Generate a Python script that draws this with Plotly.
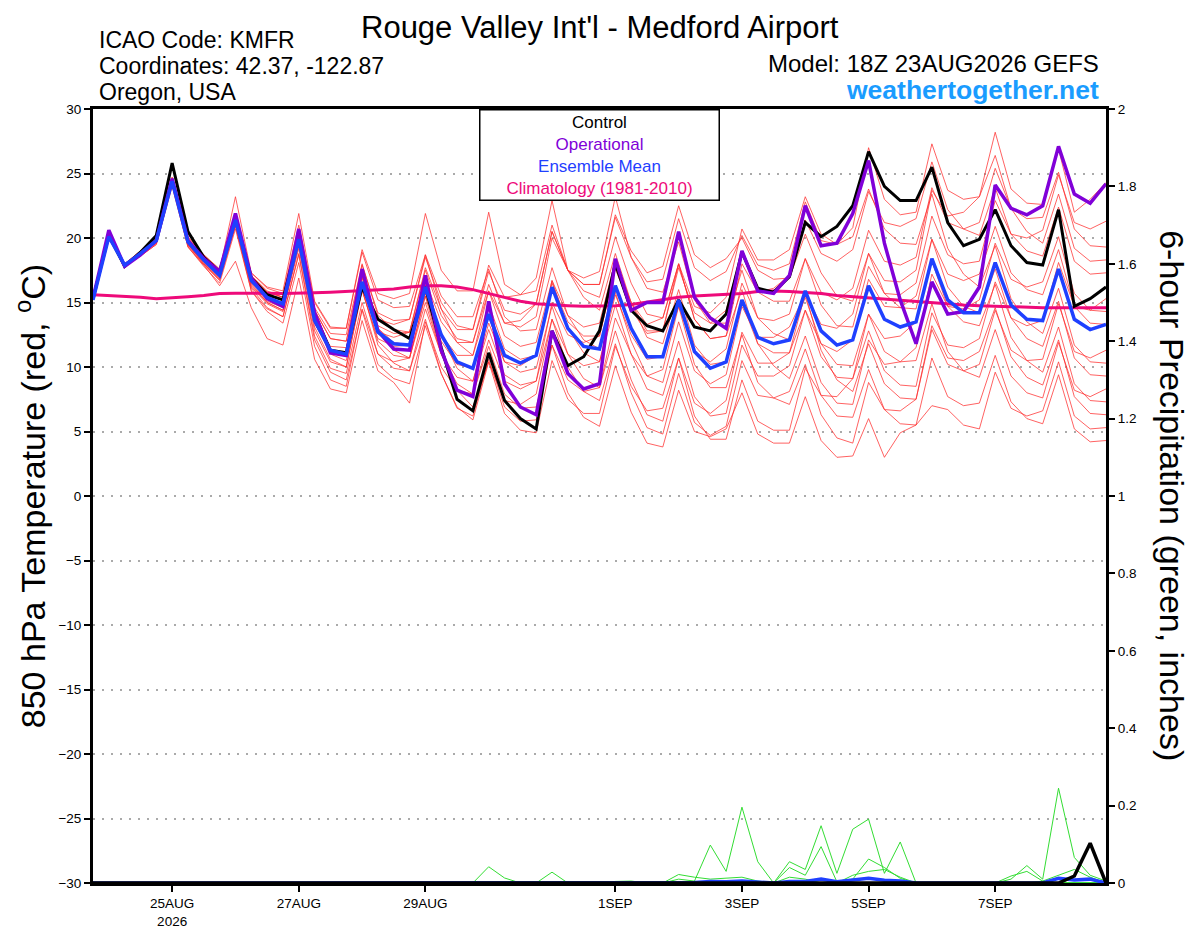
import pandas as pd
import plotly.graph_objects as go

# GEFS 18Z 23AUG2026 run for KMFR, 6-hourly steps out to 16 days
times = pd.date_range("2026-08-23 18:00", periods=65, freq="6h")

tick_dates = ["2026-08-25", "2026-08-27", "2026-08-29", "2026-09-01",
              "2026-09-03", "2026-09-05", "2026-09-07"]
tick_text = ["25AUG<br>2026", "27AUG", "29AUG", "1SEP", "3SEP", "5SEP", "7SEP"]

# 850 hPa temperature (deg C)
control = [15.3, 20.2, 17.8, 18.9, 20.2, 25.8, 20.5, 18.5, 17.4, 21.6, 16.9, 15.6, 15.2,
           20.2, 14.1, 11.3, 11.1, 16.2, 13.7, 12.9, 12.2, 16.2, 11.5, 7.5, 6.6, 11.1,
           7.4, 6.0, 5.2, 12.8, 10.1, 10.8, 12.8, 18.0, 14.4, 13.2, 12.8, 15.2, 13.1,
           12.8, 14.1, 18.9, 16.1, 15.8, 17.0, 21.2, 20.1, 20.9, 22.5, 26.7, 24.0, 22.9,
           22.9, 25.5, 21.2, 19.4, 19.9, 22.2, 19.4, 18.1, 17.9, 22.2, 14.7, 15.3, 16.2]

operational = [15.3, 20.6, 17.8, 18.7, 19.8, 24.6, 19.8, 18.4, 17.4, 21.9, 16.9, 15.3, 14.7,
               20.7, 14.2, 11.1, 10.9, 17.6, 12.8, 11.4, 11.3, 17.1, 11.3, 8.2, 7.7, 15.1,
               8.7, 6.9, 6.3, 12.8, 9.5, 8.3, 8.7, 18.4, 14.4, 15.0, 15.0, 20.5, 15.4,
               13.8, 13.0, 19.0, 15.9, 15.7, 17.1, 22.5, 19.4, 19.6, 21.9, 26.0, 19.6, 15.2,
               11.8, 16.6, 14.1, 14.3, 16.2, 24.1, 22.3, 21.8, 22.5, 27.1, 23.4, 22.7, 24.2]

ens_mean = [15.2, 20.1, 17.9, 18.8, 19.8, 24.4, 19.7, 18.3, 17.1, 21.4, 16.7, 15.4, 14.9,
            19.9, 13.6, 11.3, 11.0, 16.6, 12.7, 11.8, 11.7, 16.2, 12.5, 10.4, 9.9, 14.1,
            10.9, 10.3, 10.9, 16.2, 13.0, 11.6, 11.4, 16.3, 13.0, 10.8, 10.8, 15.2, 11.2,
            9.9, 10.4, 15.2, 12.3, 11.8, 12.1, 15.9, 12.8, 11.7, 12.1, 16.3, 13.7, 13.1,
            13.5, 18.4, 15.2, 14.2, 14.2, 18.1, 14.8, 13.7, 13.6, 17.6, 13.7, 12.9, 13.3]

climatology = [15.6, 15.55, 15.5, 15.4, 15.3, 15.35, 15.45, 15.55, 15.7, 15.72, 15.74, 15.72, 15.7,
               15.7, 15.75, 15.8, 15.85, 15.9, 15.95, 16.05, 16.2, 16.3, 16.3, 16.2, 16.0, 15.7,
               15.4, 15.1, 14.9, 14.8, 14.75, 14.7, 14.7, 14.75, 14.85, 15.05, 15.25, 15.4, 15.5,
               15.55, 15.6, 15.7, 15.85, 15.9, 15.85, 15.8, 15.7, 15.55, 15.45, 15.35, 15.25, 15.15,
               15.05, 14.95, 14.85, 14.8, 14.75, 14.7, 14.7, 14.65, 14.6, 14.6, 14.6, 14.6, 14.6]

member_01 = [15.2, 20.2, 18.0, 18.9, 20.0, 24.6, 19.9, 18.6, 17.4, 21.8, 17.1, 15.9, 15.4,
             20.5, 14.4, 12.2, 12.0, 17.9, 14.2, 13.6, 13.7, 18.5, 15.0, 13.2, 12.9, 17.4,
             14.4, 14.1, 14.9, 20.5, 17.5, 16.4, 16.4, 21.6, 18.5, 16.6, 16.8, 21.5, 17.7,
             16.7, 17.4, 20.2, 17.9, 17.5, 18.0, 22.8, 19.8, 19.5, 20.8, 27.0, 23.0, 21.8,
             22.0, 27.3, 23.7, 23.0, 23.2, 28.2, 23.8, 22.7, 22.6, 26.9, 22.0, 23.0, 24.3]
member_02 = [15.2, 20.0, 17.8, 18.6, 19.5, 24.1, 19.3, 17.9, 16.3, 18.2, 14.6, 12.2, 11.7,
             16.9, 10.6, 8.3, 8.0, 13.6, 9.7, 8.8, 7.2, 13.5, 10.0, 8.2, 7.9, 11.6,
             7.9, 6.8, 6.9, 11.7, 8.0, 6.1, 5.4, 10.1, 6.5, 4.1, 3.8, 8.2, 5.0,
             4.6, 5.2, 8.0, 4.8, 4.1, 4.1, 7.7, 4.3, 3.0, 3.1, 6.0, 3.0, 4.9,
             5.5, 10.7, 7.7, 7.0, 7.2, 10.9, 7.3, 6.0, 5.6, 9.4, 5.2, 4.2, 4.3]
member_03 = [15.3, 20.1, 18.0, 18.9, 19.9, 24.5, 19.9, 18.5, 17.3, 21.8, 17.3, 16.2, 15.9,
             21.9, 15.1, 13.1, 13.0, 19.1, 15.7, 15.3, 15.7, 21.9, 17.5, 15.9, 15.9, 22.0,
             16.4, 15.6, 15.9, 21.0, 17.5, 15.9, 15.4, 20.1, 16.5, 14.1, 13.8, 18.0, 13.7,
             12.2, 12.4, 18.0, 15.8, 16.1, 17.1, 21.4, 18.8, 18.2, 19.1, 23.6, 21.2, 20.9,
             21.5, 25.9, 22.2, 20.7, 20.2, 23.9, 20.3, 19.0, 18.6, 22.4, 18.2, 17.2, 17.3]
member_04 = [15.2, 20.1, 17.8, 18.7, 19.7, 24.2, 19.5, 18.0, 16.8, 20.9, 16.1, 14.6, 13.9,
             18.7, 12.1, 9.6, 9.0, 14.4, 10.2, 9.1, 8.7, 13.2, 9.5, 6.8, 6.2, 10.6,
             6.9, 5.8, 5.9, 11.7, 9.0, 8.1, 8.4, 13.8, 11.0, 9.3, 9.8, 14.7, 11.2,
             10.4, 11.4, 16.5, 13.8, 13.6, 14.1, 18.4, 15.8, 15.2, 16.1, 20.6, 18.2, 17.9,
             18.5, 23.9, 21.2, 20.7, 21.2, 25.4, 22.3, 21.5, 21.6, 25.1, 20.7, 19.4, 19.3]
member_05 = [15.2, 20.2, 18.0, 19.0, 20.1, 24.7, 20.1, 18.7, 17.6, 21.8, 17.0, 15.5, 14.9,
             19.6, 13.1, 10.6, 10.0, 15.9, 12.2, 11.6, 11.7, 16.7, 13.5, 11.9, 11.9, 16.4,
             13.4, 13.1, 13.9, 20.0, 17.5, 16.9, 17.4, 23.2, 18.5, 16.1, 15.8, 19.7, 15.2,
             13.4, 13.4, 17.5, 13.8, 12.6, 12.1, 15.4, 11.8, 10.2, 10.1, 14.1, 11.2, 10.4,
             10.5, 14.9, 11.2, 9.7, 9.2, 12.9, 9.3, 8.0, 7.6, 11.9, 8.2, 7.7, 8.3]
member_06 = [15.2, 20.1, 17.8, 18.7, 19.7, 24.3, 19.5, 18.1, 16.9, 21.1, 16.4, 15.0, 14.4,
             19.5, 13.4, 11.2, 11.0, 16.9, 13.2, 12.6, 12.7, 16.7, 12.5, 9.9, 8.9, 12.9,
             9.4, 8.6, 8.9, 13.7, 10.0, 8.1, 7.4, 11.8, 8.0, 5.3, 4.8, 9.5, 5.7,
             4.7, 5.4, 10.5, 7.8, 7.6, 8.1, 11.4, 7.8, 6.2, 6.1, 9.8, 6.7, 5.6,
             5.5, 7.0, 6.7, 5.5, 5.2, 9.6, 6.8, 6.2, 6.6, 10.4, 6.2, 5.2, 5.3]
member_07 = [15.2, 20.0, 17.9, 18.8, 19.8, 24.1, 19.7, 18.3, 17.1, 21.5, 17.0, 15.8, 15.4,
             20.5, 14.4, 12.2, 12.0, 17.1, 12.7, 11.3, 10.7, 15.7, 12.5, 10.9, 10.9, 15.9,
             13.4, 13.6, 14.9, 20.5, 17.5, 16.4, 16.4, 21.8, 19.0, 17.3, 17.8, 22.5, 18.7,
             17.7, 18.4, 20.0, 17.5, 16.8, 16.9, 20.3, 17.3, 15.5, 15.1, 18.8, 15.7, 14.6,
             14.5, 19.9, 17.2, 16.7, 17.2, 20.9, 17.3, 16.0, 15.6, 19.1, 14.7, 13.4, 13.3]
member_08 = [15.2, 20.0, 17.8, 18.6, 19.5, 24.0, 19.3, 17.8, 16.5, 20.7, 15.9, 14.5, 13.9,
             18.8, 12.4, 9.9, 9.5, 15.0, 11.0, 9.9, 9.7, 13.7, 9.5, 6.9, 5.9, 10.4,
             7.4, 7.1, 7.9, 13.7, 11.0, 10.1, 10.4, 15.6, 12.5, 10.6, 10.8, 14.7, 10.2,
             8.4, 8.4, 12.5, 8.8, 7.6, 7.1, 10.2, 6.3, 4.5, 4.1, 8.8, 6.7, 6.6,
             7.5, 12.9, 10.2, 9.7, 10.2, 14.4, 11.3, 10.5, 10.6, 14.9, 11.2, 10.7, 11.3]
member_09 = [15.2, 20.2, 18.0, 19.0, 20.0, 24.7, 20.0, 18.7, 17.5, 23.2, 17.3, 16.1, 15.7,
             21.0, 15.0, 13.0, 13.0, 18.9, 15.2, 14.6, 14.7, 18.7, 14.5, 11.9, 10.9, 14.9,
             11.4, 10.6, 10.9, 16.7, 14.0, 13.1, 13.4, 18.3, 15.0, 12.8, 12.8, 17.7, 14.2,
             13.4, 14.4, 19.0, 15.8, 15.1, 15.1, 18.4, 14.8, 13.2, 13.1, 17.8, 15.7, 15.6,
             16.5, 21.7, 18.7, 18.0, 18.2, 22.9, 20.3, 20.0, 20.6, 24.9, 21.2, 20.7, 21.3]
member_10 = [15.2, 20.1, 17.8, 18.7, 19.6, 24.2, 19.4, 17.9, 16.7, 21.0, 16.2, 14.9, 14.3,
             19.2, 12.8, 10.4, 10.0, 16.1, 12.7, 12.3, 12.7, 17.5, 14.0, 12.2, 11.9, 15.9,
             12.4, 11.6, 11.9, 16.7, 13.0, 11.1, 10.4, 14.8, 11.0, 8.3, 7.8, 12.0, 7.7,
             6.2, 6.4, 11.7, 9.3, 9.3, 10.1, 14.4, 11.8, 11.2, 12.1, 16.8, 14.7, 14.6,
             15.5, 19.9, 16.2, 14.7, 14.2, 17.6, 13.8, 12.2, 11.6, 15.1, 10.7, 9.4, 9.3]
member_11 = [15.2, 20.1, 18.0, 18.9, 19.9, 24.5, 19.9, 18.5, 17.3, 21.6, 16.8, 15.5, 14.9,
             19.9, 13.6, 11.3, 11.0, 16.1, 11.7, 10.3, 9.7, 14.5, 11.0, 9.2, 8.9, 13.4,
             10.4, 10.1, 10.9, 16.5, 13.5, 12.4, 12.4, 17.6, 14.5, 12.6, 12.8, 18.0, 14.7,
             14.2, 15.4, 20.7, 18.3, 18.3, 19.1, 23.2, 20.3, 19.5, 20.1, 23.8, 20.7, 19.6,
             19.5, 23.4, 19.2, 17.2, 16.2, 19.4, 15.3, 13.5, 12.6, 16.1, 11.7, 10.4, 10.3]
member_12 = [15.2, 20.1, 17.9, 18.8, 19.8, 24.4, 19.7, 18.2, 17.0, 21.0, 15.9, 14.3, 13.4,
             18.1, 11.6, 9.0, 8.5, 14.5, 11.0, 10.4, 10.7, 15.5, 12.0, 10.2, 9.9, 13.9,
             10.4, 9.6, 9.9, 14.7, 11.0, 9.1, 8.4, 12.8, 9.0, 6.3, 5.8, 10.7, 7.2,
             6.4, 7.4, 12.7, 10.3, 10.3, 11.1, 14.4, 10.8, 9.2, 9.1, 12.8, 9.7, 8.6,
             8.5, 14.2, 11.7, 11.5, 12.2, 16.6, 13.8, 13.2, 13.6, 18.1, 14.7, 14.4, 15.3]
member_13 = [15.2, 20.1, 17.9, 18.8, 19.8, 24.4, 19.8, 18.4, 17.2, 21.6, 17.0, 15.8, 15.4,
             20.7, 14.6, 12.6, 12.5, 18.0, 14.0, 12.9, 12.7, 17.7, 14.5, 12.9, 12.9, 17.9,
             15.4, 15.6, 16.9, 22.9, 17.5, 15.4, 14.4, 18.8, 15.0, 12.3, 11.8, 16.0, 11.7,
             10.2, 10.4, 15.0, 11.8, 11.1, 11.1, 15.7, 13.3, 13.0, 14.1, 18.8, 16.7, 16.6,
             17.5, 23.7, 21.7, 22.0, 23.2, 26.4, 22.3, 20.5, 19.6, 23.4, 19.2, 18.2, 18.3]
member_14 = [15.2, 20.1, 17.8, 18.7, 19.6, 24.2, 19.5, 18.0, 16.8, 21.1, 16.3, 15.0, 14.4,
             19.5, 13.4, 11.2, 11.0, 17.1, 13.7, 13.3, 13.7, 18.7, 15.5, 13.9, 13.9, 17.6,
             13.9, 12.8, 12.9, 17.7, 14.0, 12.1, 11.4, 15.8, 12.0, 9.3, 8.8, 13.5, 9.7,
             8.7, 9.4, 14.7, 12.3, 12.3, 13.1, 15.7, 11.3, 9.0, 8.1, 11.8, 8.7, 7.6,
             7.5, 13.2, 10.7, 10.5, 11.2, 14.6, 10.8, 9.2, 8.6, 12.1, 7.7, 6.4, 6.3]
member_15 = [15.2, 20.1, 18.0, 18.9, 19.9, 24.5, 19.9, 18.5, 17.3, 21.6, 17.0, 15.7, 15.2,
             20.0, 13.5, 11.0, 10.5, 16.0, 12.0, 10.9, 10.7, 15.0, 11.0, 8.7, 7.9, 12.1,
             8.9, 8.3, 8.9, 15.0, 12.5, 11.9, 12.4, 17.8, 15.0, 13.3, 13.8, 18.0, 13.7,
             12.2, 12.4, 16.0, 11.8, 10.1, 9.1, 12.4, 8.8, 7.2, 7.1, 12.1, 10.2, 10.4,
             11.5, 17.2, 14.7, 14.5, 15.2, 19.6, 16.8, 16.2, 16.6, 20.1, 15.7, 14.4, 14.3]
member_16 = [15.2, 20.1, 17.8, 18.7, 19.7, 24.2, 19.5, 18.1, 16.9, 21.2, 16.5, 15.1, 14.6,
             19.8, 13.7, 11.6, 11.5, 17.0, 13.0, 11.9, 11.7, 15.5, 11.0, 8.2, 6.9, 10.4,
             6.4, 5.1, 4.9, 10.5, 7.5, 6.4, 6.4, 11.6, 8.5, 6.6, 6.8, 10.7, 6.2,
             4.4, 4.4, 9.0, 5.8, 5.1, 5.1, 9.9, 7.8, 7.7, 9.1, 14.1, 12.2, 12.4,
             13.5, 18.2, 14.7, 13.5, 13.2, 16.4, 12.3, 10.5, 9.6, 13.1, 8.7, 7.4, 7.3]

members = [member_01, member_02, member_03, member_04, member_05, member_06, member_07, member_08,
           member_09, member_10, member_11, member_12, member_13, member_14, member_15, member_16]

# 6-hour precipitation (inches)
precip_control = [0, 0, 0, 0, 0, 0, 0, 0, 0, 0, 0, 0, 0,
                  0, 0, 0, 0, 0, 0, 0, 0, 0, 0, 0, 0, 0,
                  0, 0, 0, 0, 0, 0, 0, 0, 0, 0, 0, 0, 0,
                  0, 0, 0, 0, 0, 0, 0, 0, 0, 0, 0, 0, 0,
                  0, 0, 0, 0, 0, 0, 0, 0, 0, 0, 0.018, 0.103, 0]
precip_mean = [0, 0, 0, 0, 0, 0, 0, 0, 0, 0, 0, 0, 0,
               0, 0, 0, 0, 0, 0, 0, 0, 0, 0, 0, 0, 0.002,
               0, 0, 0, 0.001, 0, 0, 0, 0, 0, 0, 0, 0.002, 0.001,
               0.004, 0.003, 0.005, 0.003, 0, 0.004, 0.004, 0.01, 0.003, 0.008, 0.012, 0.007, 0.005,
               0, 0, 0, 0, 0, 0, 0.002, 0.002, 0, 0.012, 0.008, 0.01, 0]
precip_members = [
    [0, 0, 0, 0, 0, 0, 0, 0, 0, 0, 0, 0, 0,
     0, 0, 0, 0, 0, 0, 0, 0, 0, 0, 0, 0, 0.042,
     0.013, 0, 0, 0.028, 0, 0, 0, 0, 0, 0, 0, 0, 0,
     0, 0, 0, 0, 0, 0, 0, 0, 0, 0, 0, 0, 0,
     0, 0, 0, 0, 0, 0, 0, 0, 0, 0, 0, 0, 0],
    [0, 0, 0, 0, 0, 0, 0, 0, 0, 0, 0, 0, 0,
     0, 0, 0, 0, 0, 0, 0, 0, 0, 0, 0, 0, 0,
     0, 0, 0, 0, 0, 0, 0, 0, 0, 0, 0, 0.01, 0.005,
     0.098, 0.03, 0.196, 0.055, 0, 0, 0, 0, 0, 0, 0, 0, 0,
     0, 0, 0, 0, 0, 0, 0, 0, 0, 0, 0, 0, 0],
    [0, 0, 0, 0, 0, 0, 0, 0, 0, 0, 0, 0, 0,
     0, 0, 0, 0, 0, 0, 0, 0, 0, 0, 0, 0, 0,
     0, 0, 0, 0, 0, 0, 0, 0.004, 0.005, 0, 0, 0.022, 0.015,
     0.01, 0.012, 0.015, 0.005, 0, 0.015, 0.01, 0, 0, 0, 0, 0, 0,
     0, 0, 0, 0, 0, 0, 0, 0, 0, 0, 0, 0, 0],
    [0, 0, 0, 0, 0, 0, 0, 0, 0, 0, 0, 0, 0,
     0, 0, 0, 0, 0, 0, 0, 0, 0, 0, 0, 0, 0,
     0, 0, 0, 0, 0, 0, 0, 0, 0, 0, 0, 0, 0,
     0, 0, 0, 0, 0, 0.055, 0.035, 0.148, 0.025, 0.139, 0.165, 0.025, 0.106,
     0, 0, 0, 0, 0, 0, 0, 0, 0, 0, 0, 0, 0],
    [0, 0, 0, 0, 0, 0, 0, 0, 0, 0, 0, 0, 0,
     0, 0, 0, 0, 0, 0, 0, 0, 0, 0, 0, 0, 0,
     0, 0, 0, 0, 0, 0, 0, 0, 0, 0, 0, 0, 0,
     0, 0, 0, 0, 0, 0.04, 0.02, 0.094, 0.003, 0.01, 0.062, 0.04, 0.012,
     0, 0, 0, 0, 0, 0, 0, 0, 0, 0, 0, 0, 0],
    [0, 0, 0, 0, 0, 0, 0, 0, 0, 0, 0, 0, 0,
     0, 0, 0, 0, 0, 0, 0, 0, 0, 0, 0, 0, 0,
     0, 0, 0, 0, 0, 0, 0, 0, 0, 0, 0, 0, 0,
     0, 0, 0, 0, 0, 0, 0, 0, 0, 0.02, 0.03, 0.035, 0.015,
     0, 0, 0, 0, 0, 0, 0.018, 0.03, 0.005, 0, 0, 0, 0],
    [0, 0, 0, 0, 0, 0, 0, 0, 0, 0, 0, 0, 0,
     0, 0, 0, 0, 0, 0, 0, 0, 0, 0, 0, 0, 0,
     0, 0, 0, 0, 0, 0, 0, 0, 0, 0, 0, 0, 0,
     0, 0, 0, 0, 0, 0, 0, 0, 0, 0, 0, 0, 0,
     0, 0, 0, 0, 0, 0, 0.01, 0.045, 0.01, 0.245, 0.066, 0.02, 0.005],
    [0, 0, 0, 0, 0, 0, 0, 0, 0, 0, 0, 0, 0,
     0, 0, 0, 0, 0, 0, 0, 0, 0, 0, 0, 0, 0,
     0, 0, 0, 0, 0, 0, 0, 0, 0, 0, 0, 0, 0,
     0, 0, 0, 0, 0, 0, 0, 0, 0, 0, 0, 0, 0,
     0, 0, 0, 0, 0, 0, 0, 0, 0.005, 0.02, 0.035, 0.015, 0],
]

RED = "rgba(255,45,45,0.75)"
GREEN = "#33dd33"
PURPLE = "#8000d8"
BLUE = "#1f40ff"
MAGENTA = "#ee0a7a"
FONT = "Liberation Sans, Arial, Helvetica, sans-serif"

fig = go.Figure()

# ensemble members (thin red)
for m in members:
    fig.add_trace(go.Scatter(x=times, y=m, mode="lines",
                             line=dict(color=RED, width=1), hoverinfo="skip"))

fig.add_trace(go.Scatter(x=times, y=climatology, mode="lines", name="Climatology (1981-2010)",
                         line=dict(color=MAGENTA, width=3)))
fig.add_trace(go.Scatter(x=times, y=control, mode="lines", name="Control",
                         line=dict(color="black", width=3)))
fig.add_trace(go.Scatter(x=times, y=operational, mode="lines", name="Operational",
                         line=dict(color=PURPLE, width=3.5)))
fig.add_trace(go.Scatter(x=times, y=ens_mean, mode="lines", name="Ensemble Mean",
                         line=dict(color=BLUE, width=3.5)))

# precipitation on the right axis
for p in precip_members:
    fig.add_trace(go.Scatter(x=times, y=p, mode="lines", yaxis="y2",
                             line=dict(color=GREEN, width=1), hoverinfo="skip"))
fig.add_trace(go.Scatter(x=times, y=precip_mean, mode="lines", yaxis="y2",
                         line=dict(color=BLUE, width=3.5)))
fig.add_trace(go.Scatter(x=times, y=precip_control, mode="lines", yaxis="y2",
                         line=dict(color="black", width=3.5)))

# the page body adds 8px, so margins are shifted by that amount
fig.update_layout(
    width=1200, height=927,
    margin=dict(l=85, r=102, t=101, b=52),
    paper_bgcolor="white", plot_bgcolor="white",
    showlegend=False,
    font=dict(family=FONT, color="black"),
    xaxis=dict(range=[times[0], times[-1]], tickvals=tick_dates, ticktext=tick_text,
               ticks="outside", ticklen=6, tickwidth=1.5, tickcolor="black",
               showgrid=False, zeroline=False, showline=True, linewidth=3,
               linecolor="black", mirror=True, tickfont=dict(size=13.5),
               automargin=False),
    yaxis=dict(range=[-30, 30], dtick=5, ticks="outside", ticklen=6, tickwidth=1.5,
               tickcolor="black", showgrid=True, gridcolor="#aaaaaa", gridwidth=1.5,
               griddash="2px,7px", zeroline=False, showline=True, linewidth=3,
               linecolor="black", tickfont=dict(size=13.5), automargin=False),
    yaxis2=dict(range=[0, 2], dtick=0.2, overlaying="y", side="right",
                ticks="outside", ticklen=6, tickwidth=1.5, tickcolor="black",
                showgrid=False, zeroline=False, showline=True, linewidth=3,
                linecolor="black", tickfont=dict(size=13.5), automargin=False),
)

legend_text = ("Control<br>"
               f"<span style='color:{PURPLE}'>Operational</span><br>"
               f"<span style='color:{BLUE}'>Ensemble Mean</span><br>"
               f"<span style='color:{MAGENTA}'>Climatology (1981-2010)</span>")

annotations = [
    dict(text="Rouge Valley Int'l - Medford Airport", x=0.5, y=1.1305, xanchor="center",
         yanchor="top", font=dict(size=31)),
    dict(text="ICAO Code: KMFR", x=0.004, y=1.089, xanchor="left", yanchor="middle",
         font=dict(size=23)),
    dict(text="Coordinates: 42.37, -122.87", x=0.004, y=1.0555, xanchor="left",
         yanchor="middle", font=dict(size=23)),
    dict(text="Oregon, USA", x=0.004, y=1.022, xanchor="left", yanchor="middle",
         font=dict(size=23)),
    dict(text="Model: 18Z 23AUG2026 GEFS", x=0.9955, y=1.0594, xanchor="right",
         yanchor="middle", font=dict(size=24)),
    dict(text="<b>weathertogether.net</b>", x=0.9955, y=1.0245, xanchor="right",
         yanchor="middle", font=dict(size=26.5, color="#1a9cff")),
    dict(text=legend_text, x=0.5, y=1.0, xanchor="center", yanchor="top",
         font=dict(size=17), bgcolor="white", bordercolor="black", borderwidth=1.5,
         borderpad=2, width=234),
    dict(text="850 hPa Temperature (red, <sup>o</sup>C)", x=-0.062, y=0.5,
         xanchor="center", yanchor="middle", textangle=-90, font=dict(size=34)),
    dict(text="6-hour Precipitation (green, inches)", x=1.065, y=0.5,
         xanchor="center", yanchor="middle", textangle=90, font=dict(size=34)),
]
for a in annotations:
    a.update(xref="paper", yref="paper", showarrow=False)
fig.update_layout(annotations=annotations)

fig.write_html("out.html")
